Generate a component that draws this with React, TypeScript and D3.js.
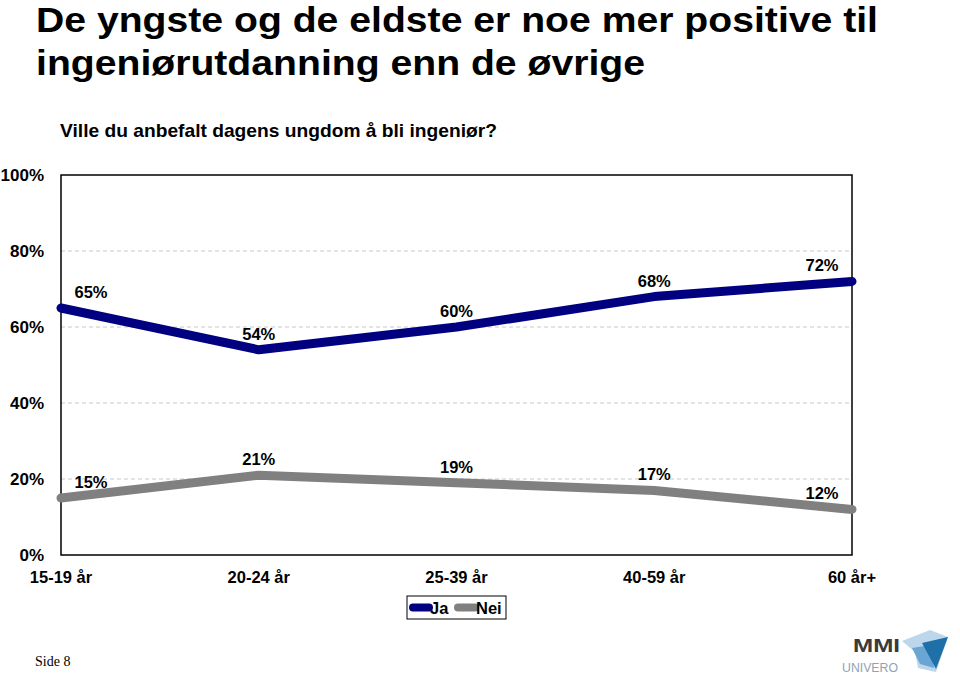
import React from "react";
import * as d3 from "d3";

const categories = ["15-19 år", "20-24 år", "25-39 år", "40-59 år", "60 år+"];
const jaValues = [65, 54, 60, 68, 72];
const neiValues = [15, 21, 19, 17, 12];
const yTicks = [0, 20, 40, 60, 80, 100];
const gridTicks = [20, 40, 60, 80];
const seriesNames = ["Ja", "Nei"];
const titleLines = ["De yngste og de eldste er noe mer positive til", "ingeniørutdanning enn de øvrige"];
const subtitle = "Ville du anbefalt dagens ungdom å bli ingeniør?";

const W = 960, H = 675;
const plot = { left: 61, right: 852, top: 175, bottom: 555 };
const font = "'Liberation Sans', Arial, Helvetica, sans-serif";

export default function App() {
  const x = d3.scalePoint<string>().domain(categories).range([plot.left, plot.right]);
  const y = d3.scaleLinear().domain([0, 100]).range([plot.bottom, plot.top]);
  const line = d3.line<number>().x((_, i) => x(categories[i])!).y((d) => y(d));
  const series = [
    { name: seriesNames[0], values: jaValues, color: "#000080" },
    { name: seriesNames[1], values: neiValues, color: "#808080" },
  ];
  const labelX = (i: number) => {
    const px = x(categories[i])!;
    if (i === 0) return px + 30;
    if (i === categories.length - 1) return px - 30;
    return px;
  };
  return (
    <svg width={W} height={H} style={{ position: "absolute", left: 0, top: 0, background: "#fff" }} fontFamily={font}>
      <text x={36} y={32} fontSize={35} fontWeight="bold" fill="#000" textLength={842} lengthAdjust="spacingAndGlyphs">{titleLines[0]}</text>
      <text x={36} y={75} fontSize={35} fontWeight="bold" fill="#000" textLength={609} lengthAdjust="spacingAndGlyphs">{titleLines[1]}</text>
      <text x={60} y={137} fontSize={18.5} fontWeight="bold" fill="#000" textLength={437} lengthAdjust="spacingAndGlyphs">{subtitle}</text>

      {gridTicks.map((t) => (
        <line key={t} x1={plot.left} x2={plot.right} y1={y(t)} y2={y(t)} stroke="#c8c8c8" strokeWidth={1} strokeDasharray="4,3" />
      ))}
      <rect x={plot.left} y={plot.top} width={plot.right - plot.left} height={plot.bottom - plot.top} fill="none" stroke="#000" strokeWidth={1.5} />

      {yTicks.map((t) => (
        <text key={t} x={44} y={y(t)} dy="0.35em" textAnchor="end" fontSize={17} fontWeight="bold">{t}%</text>
      ))}
      {categories.map((c) => (
        <text key={c} x={x(c)!} y={583} textAnchor="middle" fontSize={16.5} fontWeight="bold">{c}</text>
      ))}

      {series.map((s) => (
        <g key={s.name}>
          <path d={line(s.values)!} fill="none" stroke={s.color} strokeWidth={9} strokeLinecap="round" strokeLinejoin="round" />
          {s.values.map((v, i) => (
            <text key={i} x={labelX(i)} y={y(v) - 10} textAnchor="middle" fontSize={16.5} fontWeight="bold">{v}%</text>
          ))}
        </g>
      ))}

      <g>
        <rect x={407} y={596} width={99} height={23} fill="#fff" stroke="#000" strokeWidth={1} />
        <line x1={413} x2={429} y1={607.5} y2={607.5} stroke={series[0].color} strokeWidth={8} strokeLinecap="round" />
        <text x={430} y={614} fontSize={16.5} fontWeight="bold">{seriesNames[0]}</text>
        <line x1={458} x2={475} y1={607.5} y2={607.5} stroke={series[1].color} strokeWidth={8} strokeLinecap="round" />
        <text x={476} y={614} fontSize={16.5} fontWeight="bold">{seriesNames[1]}</text>
      </g>

      <text x={35} y={666} fontSize={14} fontFamily="'Liberation Serif', 'Times New Roman', serif">Side 8</text>

      <g>
        <text x={853} y={652} fontSize={19} fontWeight="bold" fill="#3a3a3a" textLength={47} lengthAdjust="spacingAndGlyphs">MMI</text>
        <text x={842} y={672} fontSize={13} fill="#8fa3b5" textLength={56} lengthAdjust="spacingAndGlyphs">UNIVERO</text>
        <polygon points="902,641 930,630 948,637 936,672 918,668 915,652" fill="#bcd7ec" />
        <polygon points="912,648 931,645 934,668 920,664" fill="#6aa6d4" />
        <polygon points="922,643 948,637 936,669" fill="#1f6fa8" />
      </g>
    </svg>
  );
}
